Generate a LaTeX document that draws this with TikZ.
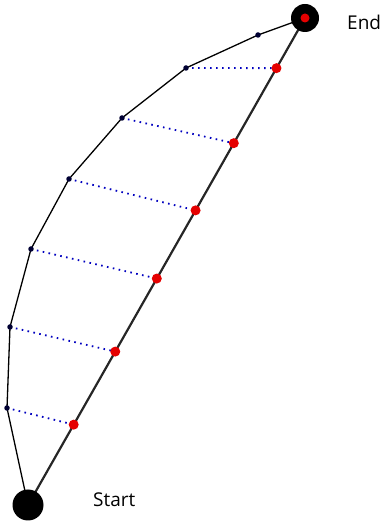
\documentclass[tikz,border=0pt]{standalone}
\usepackage{fontspec}
\setmainfont{Open Sans}
\begin{document}
\begin{tikzpicture}[x=1pt,y=1pt,
  bigdot/.style={circle,fill=black,inner sep=0pt,minimum size=#1},
  reddot/.style={circle,fill=red!90!black,inner sep=0pt,minimum size=10pt},
  cdot/.style={circle,fill=black!80!blue,inner sep=0pt,minimum size=5.5pt},
  straight/.style={line width=2.2pt,draw=black!85},
  curve/.style={line width=1.3pt,draw=black},
  proj/.style={draw=blue!75!black,line width=1.8pt,dash pattern=on 1.6pt off 4.4pt},
  lbl/.style={font=\fontsize{19}{22}\selectfont,inner sep=0pt,anchor=west}]
\useasboundingbox (0,0) rectangle (385,528);
% endpoints
\coordinate (S) at (28,23);
\coordinate (E) at (305,510);
% straight line
\draw[straight] (S) -- (E);
% points on line (parameter t)
\path (S) -- (E)
  coordinate[pos=0.165] (r1)
  coordinate[pos=0.315] (r2)
  coordinate[pos=0.465] (r3)
  coordinate[pos=0.605] (r4)
  coordinate[pos=0.743] (r5)
  coordinate[pos=0.897] (r6);
% curve points
\coordinate (c1) at (7,120);
\coordinate (c2) at (10,201);
\coordinate (c3) at (31,279);
\coordinate (c4) at (69,349);
\coordinate (c5) at (122,410);
\coordinate (c6) at (186,460);
\coordinate (c7) at (258,493);
% curve
\draw[curve] (S) -- (c1) -- (c2) -- (c3) -- (c4) -- (c5) -- (c6) -- (c7) -- (E);
% projections
\foreach \i in {1,...,6} \draw[proj] (c\i) -- (r\i);
% dots
\foreach \i in {1,...,7} \node[cdot] (n\i) at (c\i) {};
\foreach \i in {1,...,6} \node[reddot] (m\i) at (r\i) {};
\node[bigdot=31pt] (start) at (S) {};
\node[bigdot=28pt] (end) at (E) {};
\node[reddot,minimum size=9pt] (endred) at (E) {};
% labels
\node[lbl] (startlbl) at (93,28) {Start};
\node[lbl] (endlbl) at (347,506) {End};
\end{tikzpicture}
\end{document}
